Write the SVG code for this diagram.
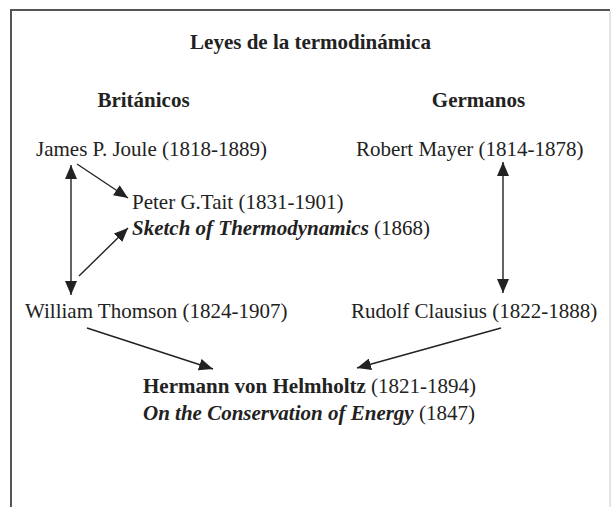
<svg xmlns="http://www.w3.org/2000/svg" width="611" height="507" viewBox="0 0 611 507">
  <style>
    text { font-size: 21px; fill: #222; }
    .b { font-weight: bold; }
    .bi { font-weight: bold; font-style: italic; }
    .mid { text-anchor: middle; }
    .edge { stroke: #222; stroke-width: 1.4; fill: none; }
  </style>
  <defs>
    <marker id="head" viewBox="0 0 14 12" refX="14" refY="6" markerWidth="14" markerHeight="12" markerUnits="userSpaceOnUse" orient="auto-start-reverse">
      <path d="M0,0 L14,6 L0,12 Z" fill="#222"/>
    </marker>
  </defs>

  <!-- frame -->
  <rect width="611" height="507" fill="#fff"/>
  <path d="M11,507 V10 H610" fill="none" stroke="#555" stroke-width="2"/>
  <line x1="610" y1="11" x2="610" y2="507" stroke="#c8c8c8" stroke-width="1"/>

  <g font-family="Liberation Serif, DejaVu Serif, serif">
    <!-- headings -->
    <g id="title"><text class="b mid" x="310.5" y="49">Leyes de la termodinámica</text></g>
    <g id="britanicos"><text class="b mid" x="143.5" y="107">Británicos</text></g>
    <g id="germanos"><text class="b mid" x="478.5" y="107">Germanos</text></g>

    <!-- people -->
    <g id="joule"><text x="36" y="156">James P. Joule (1818-1889)</text></g>
    <g id="mayer"><text x="356" y="156">Robert Mayer (1814-1878)</text></g>
    <g id="tait">
      <text x="132" y="209">Peter G.Tait (1831-1901)</text>
      <text x="132" y="235"><tspan class="bi">Sketch of Thermodynamics</tspan> (1868)</text>
    </g>
    <g id="thomson"><text x="25" y="318">William Thomson (1824-1907)</text></g>
    <g id="clausius"><text x="351" y="318">Rudolf Clausius (1822-1888)</text></g>
    <g id="helmholtz">
      <text x="143" y="393"><tspan class="b">Hermann von Helmholtz</tspan> (1821-1894)</text>
      <text x="143" y="420"><tspan class="bi">On the Conservation of Energy</tspan> (1847)</text>
    </g>
  </g>

  <!-- connectors -->
  <g id="connectors">
    <line class="edge" x1="71" y1="165" x2="71" y2="295" marker-start="url(#head)" marker-end="url(#head)"/>
    <line class="edge" x1="77" y1="164" x2="128" y2="198" marker-end="url(#head)"/>
    <line class="edge" x1="79" y1="276" x2="128" y2="228" marker-end="url(#head)"/>
    <line class="edge" x1="503" y1="162" x2="503" y2="293" marker-start="url(#head)" marker-end="url(#head)"/>
    <line class="edge" x1="87" y1="328" x2="213" y2="369" marker-end="url(#head)"/>
    <line class="edge" x1="501" y1="328" x2="357" y2="368" marker-end="url(#head)"/>
  </g>
</svg>
